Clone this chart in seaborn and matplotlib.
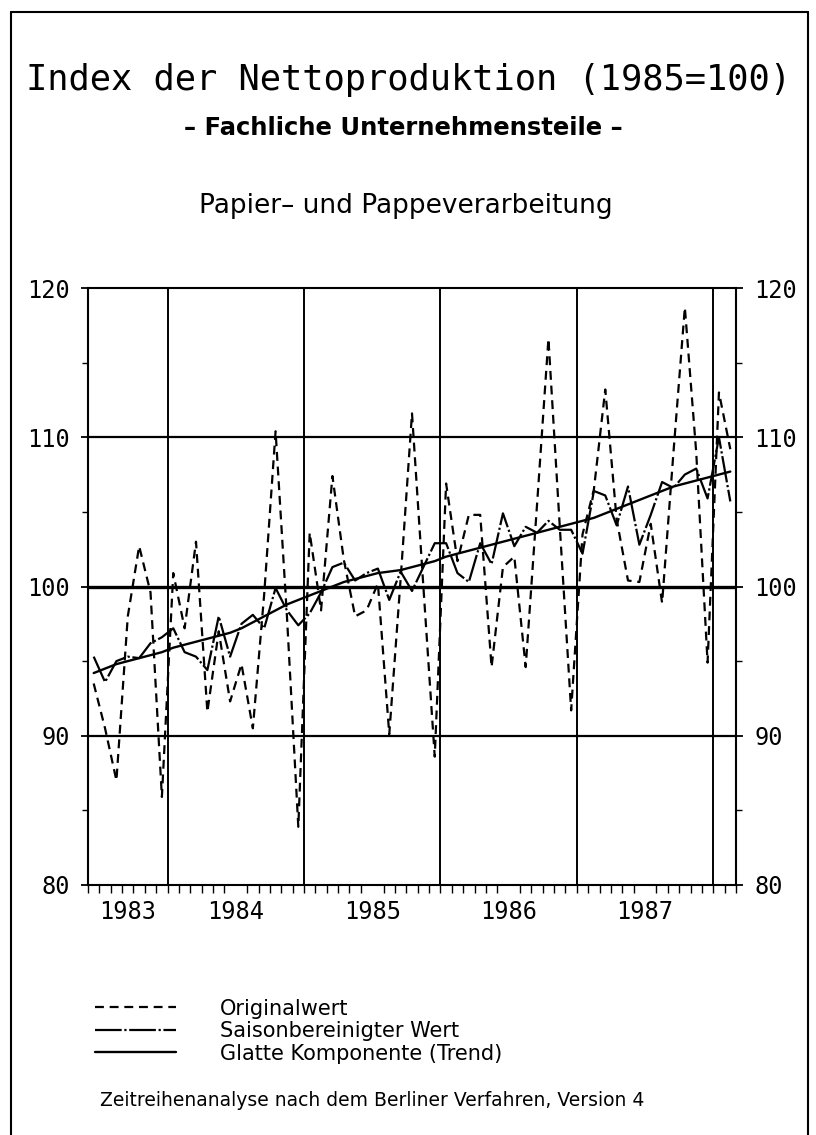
import numpy as np
import pandas as pd
import matplotlib
matplotlib.use("Agg")
import matplotlib.pyplot as plt
from matplotlib.lines import Line2D
from matplotlib.ticker import FixedLocator, MultipleLocator
import seaborn as sns

# monthly values Jun 1983 - Feb 1988
months = pd.period_range("1983-06", "1988-02", freq="M")

original = [93.5, 90.5, 87.0, 98.0, 102.7, 99.6, 85.9,
            100.9, 97.2, 103.0, 91.6, 97.0, 92.3, 94.8, 90.5, 99.5, 110.4, 98.0, 83.9,
            103.6, 98.4, 107.4, 101.8, 98.0, 98.4, 100.2, 90.1, 100.5, 111.6, 100.0, 88.6,
            106.9, 101.7, 104.8, 104.8, 94.6, 101.3, 102.0, 94.6, 105.5, 116.6, 104.0, 91.7,
            103.5, 106.5, 113.2, 104.5, 100.4, 100.3, 104.2, 98.9, 109.0, 118.7, 109.0, 94.9,
            113.0, 109.2]

seasonal_adj = [95.3, 93.6, 95.0, 95.3, 95.2, 96.2, 96.6,
                97.2, 95.6, 95.3, 94.4, 98.0, 95.3, 97.5, 98.1, 97.2, 99.9, 98.4, 97.4,
                98.2, 99.6, 101.3, 101.6, 100.4, 100.9, 101.2, 99.1, 101.0, 99.7, 101.3, 102.9,
                102.9, 100.9, 100.3, 102.9, 101.5, 104.9, 102.7, 104.0, 103.6, 104.4, 103.8, 103.8,
                102.2, 106.4, 106.1, 104.1, 106.7, 102.8, 104.8, 107.0, 106.6, 107.5, 107.9, 105.9,
                110.0, 105.7]

trend = [94.2, 94.5, 94.8, 95.0, 95.2, 95.4, 95.6,
         95.9, 96.1, 96.3, 96.5, 96.7, 96.9, 97.2, 97.6, 98.0, 98.4, 98.8, 99.1,
         99.4, 99.7, 100.0, 100.3, 100.5, 100.7, 100.9, 101.0, 101.1, 101.3, 101.5, 101.7,
         102.0, 102.2, 102.4, 102.6, 102.8, 103.0, 103.2, 103.4, 103.6, 103.8, 104.0, 104.2,
         104.4, 104.6, 104.9, 105.2, 105.5, 105.8, 106.1, 106.4, 106.7, 106.9, 107.1, 107.3,
         107.5, 107.7]

series_labels = ["Originalwert", "Saisonbereinigter Wert", "Glatte Komponente (Trend)"]
y_ticks = [80, 90, 100, 110, 120]

df = pd.DataFrame({"t": np.arange(len(months)),
                   "orig": original, "sa": seasonal_adj, "trend": trend})

sns.set_theme(style="white")
plt.rcParams["font.family"] = ["DejaVu Sans"]
for key in ["text.color", "axes.labelcolor", "xtick.color", "ytick.color"]:
    plt.rcParams[key] = "black"
MONO = "DejaVu Sans Mono"

W, H = 816, 1135
fig = plt.figure(figsize=(W / 100, H / 100), dpi=100)


def fx(px):
    return px / W


def fy(py):
    return 1 - py / H


ax = fig.add_axes([fx(88), fy(885), fx(736) - fx(88), fy(288) - fy(885)])

# grid: year boundaries and horizontal reference lines
jan_pos = [i - 0.5 for i, m in enumerate(months) if m.month == 1]
for xb in jan_pos:
    ax.axvline(xb, color="black", lw=1.4, zorder=1)
for yv in [90, 110]:
    ax.axhline(yv, color="black", lw=1.6, zorder=1)
ax.axhline(100, color="black", lw=2.4, zorder=1)

sns.lineplot(data=df, x="t", y="orig", ax=ax, color="black", lw=1.6,
             linestyle=(0, (4, 2.6)), label=series_labels[0], estimator=None)
sns.lineplot(data=df, x="t", y="sa", ax=ax, color="black", lw=1.6,
             linestyle=(0, (12, 1.2, 1, 1.2)), label=series_labels[1], estimator=None)
sns.lineplot(data=df, x="t", y="trend", ax=ax, color="black", lw=1.7,
             label=series_labels[2], estimator=None)

ax.set_xlim(-0.5, len(months) - 0.5)
ax.set_ylim(80, 120)
ax.set_xlabel("")
ax.set_ylabel("")

for sp in ax.spines.values():
    sp.set_visible(True)
    sp.set_color("black")
    sp.set_linewidth(1.5)

# y axis on both sides
ax.set_yticks(y_ticks)
ax.yaxis.set_minor_locator(MultipleLocator(5))
ax.tick_params(axis="y", which="both", left=True, right=True, labelleft=True,
               labelright=True, direction="out", color="black")
ax.tick_params(axis="y", which="major", length=5, width=1.3, labelsize=17, pad=8)
ax.tick_params(axis="y", which="minor", length=4, width=1.0)
for lab in ax.get_yticklabels():
    lab.set_family(MONO)

# x axis: month ticks, year labels centered on each year's span
ax.xaxis.set_minor_locator(FixedLocator(np.arange(-0.5, len(months), 1.0)))
years = sorted(set(m.year for m in months))
bounds = [-0.5] + jan_pos + [len(months) - 0.5]
centers, ylabels = [], []
for k, yr in enumerate(years):
    if bounds[k + 1] - bounds[k] >= 6:
        centers.append((bounds[k] + bounds[k + 1]) / 2)
        ylabels.append(str(yr))
ax.set_xticks(centers)
ax.set_xticklabels(ylabels, family=MONO, fontsize=17)
ax.tick_params(axis="x", which="major", length=0, pad=11, bottom=True)
ax.tick_params(axis="x", which="minor", length=6, width=1.0, direction="out",
               bottom=True, color="black")

# legend below the chart
ax.legend(loc="upper left", bbox_to_anchor=(fx(76), fy(980)),
          bbox_transform=fig.transFigure, frameon=False, fontsize=15,
          handlelength=3.9, handletextpad=2.1, labelspacing=0.12)

# titles
fig.text(fx(409), fy(80), "Index der Nettoproduktion (1985=100)", ha="center",
         va="center", family=MONO, fontsize=25.5)
fig.text(fx(403), fy(128), "\u2013 Fachliche Unternehmensteile \u2013", ha="center",
         va="center", fontsize=17.5, fontweight="bold")
fig.text(fx(406), fy(206), "Papier\u2013 und Pappeverarbeitung", ha="center",
         va="center", fontsize=19)
fig.text(fx(100), fy(1100), "Zeitreihenanalyse nach dem Berliner Verfahren, Version 4",
         ha="left", va="center", fontsize=13.5)

# outer frame (open at the bottom)
for xs, ys in [([fx(11), fx(11)], [fy(12), 0]), ([fx(808), fx(808)], [fy(12), 0]),
               ([fx(11), fx(808)], [fy(12), fy(12)])]:
    fig.add_artist(Line2D(xs, ys, color="black", lw=1.5))

fig.savefig("out.png", dpi=100)
